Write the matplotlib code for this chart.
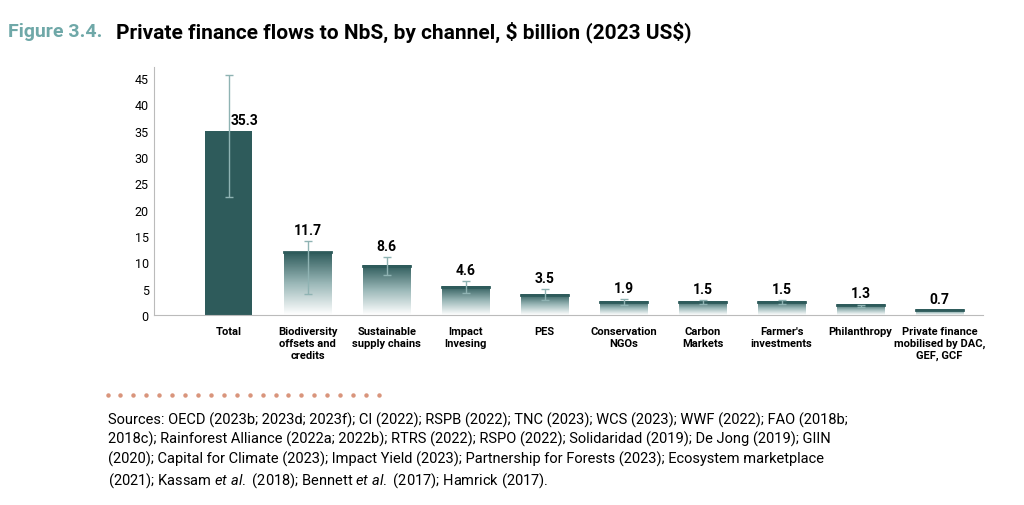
import numpy as np
import matplotlib.pyplot as plt
from matplotlib.colors import LinearSegmentedColormap

categories = ["Total", "Biodiversity\noffsets and\ncredits", "Sustainable\nsupply chains",
              "Impact\nInvesing", "PES", "Conservation\nNGOs", "Carbon\nMarkets",
              "Farmer's\ninvestments", "Philanthropy", "Private finance\nmobilised by DAC,\nGEF, GCF"]
labels = ["35.3", "11.7", "8.6", "4.6", "3.5", "1.9", "1.5", "1.5", "1.3", "0.7"]
heights = [35.0, 11.9, 9.4, 5.4, 3.9, 2.5, 2.5, 2.5, 1.9, 1.0]
err_low = [22.5, 4.0, 7.7, 4.2, 2.8, 2.0, 2.1, 2.1, 1.6, None]
err_high = [45.5, 14.0, 11.0, 6.4, 5.0, 3.0, 2.8, 2.8, 2.0, None]

dark = "#2e5b5b"
plt.rcParams['font.family'] = ['Roboto', 'DejaVu Sans']
plt.rcParams['mathtext.fontset'] = 'custom'
plt.rcParams['mathtext.it'] = 'Roboto:italic'
plt.rcParams['mathtext.rm'] = 'Roboto'
fig = plt.figure(figsize=(10.24, 5.06), dpi=100)
ax = fig.add_axes([0.15, 0.375, 0.81, 0.49])

x = np.arange(len(categories))
w = 0.6
cmap = LinearSegmentedColormap.from_list("g", ["#ffffff", "#9bb8b8", dark])
grad = np.linspace(0, 1, 100).reshape(-1, 1)
for i, h in enumerate(heights):
    if i == 0:
        ax.bar(x[i], h, w, color=dark, zorder=2)
    else:
        ax.imshow(grad, extent=[x[i] - w / 2, x[i] + w / 2, 0, h], origin="lower",
                  cmap=cmap, aspect="auto", zorder=2)
        ax.plot([x[i] - w / 2, x[i] + w / 2], [h, h], color=dark, lw=2, zorder=3)
    if err_low[i] is not None:
        ax.errorbar(x[i], (err_low[i] + err_high[i]) / 2,
                    yerr=(err_high[i] - err_low[i]) / 2, color="#8fb3b3",
                    lw=1, capsize=3, zorder=4)
    ty = max(h, err_high[i] or 0) + 0.8 if i > 0 else h + 0.6
    ax.text(x[i] + (0.2 if i == 0 else 0), ty, labels[i], ha="center", va="bottom",
            fontsize=10, fontweight="bold")

ax.set_xlim(-0.95, len(categories) - 0.45)
ax.set_ylim(0, 47)
ax.set_yticks(range(0, 50, 5))
ax.set_xticks(x)
ax.set_xticklabels(categories, fontsize=8, fontweight="bold", va="top")
ax.tick_params(length=0, labelsize=9)
ax.tick_params(axis="x", pad=8, labelsize=8)
for s in ["top", "right"]:
    ax.spines[s].set_visible(False)
ax.spines["left"].set_color("#bbbbbb")
ax.spines["bottom"].set_color("#bbbbbb")

fig.text(0.008, 0.937, "Figure 3.4.", color="#6fa8a8", fontsize=14, fontweight="bold", va="center")
fig.text(0.113, 0.937, "Private finance flows to NbS, by channel, \\$ billion (2023 US\\$)",
         fontsize=15, fontweight="bold", va="center")

fig.add_artist(plt.Line2D(np.linspace(0.105, 0.37, 22), [0.218] * 22, ls="none", marker="o",
                          ms=2.2, color="#d9957c", transform=fig.transFigure))
sources = ("Sources: OECD (2023b; 2023d; 2023f); CI (2022); RSPB (2022); TNC (2023); WCS (2023); WWF (2022); FAO (2018b;\n"
           "2018c); Rainforest Alliance (2022a; 2022b); RTRS (2022); RSPO (2022); Solidaridad (2019); De Jong (2019); GIIN\n"
           "(2020); Capital for Climate (2023); Impact Yield (2023); Partnership for Forests (2023); Ecosystem marketplace\n"
           "(2021); Kassam $\\it{et\\ al.}$ (2018); Bennett $\\it{et\\ al.}$ (2017); Hamrick (2017).")
fig.text(0.105, 0.185, sources, fontsize=10.5, va="top", linespacing=1.35)

fig.savefig("out.png", dpi=100)
